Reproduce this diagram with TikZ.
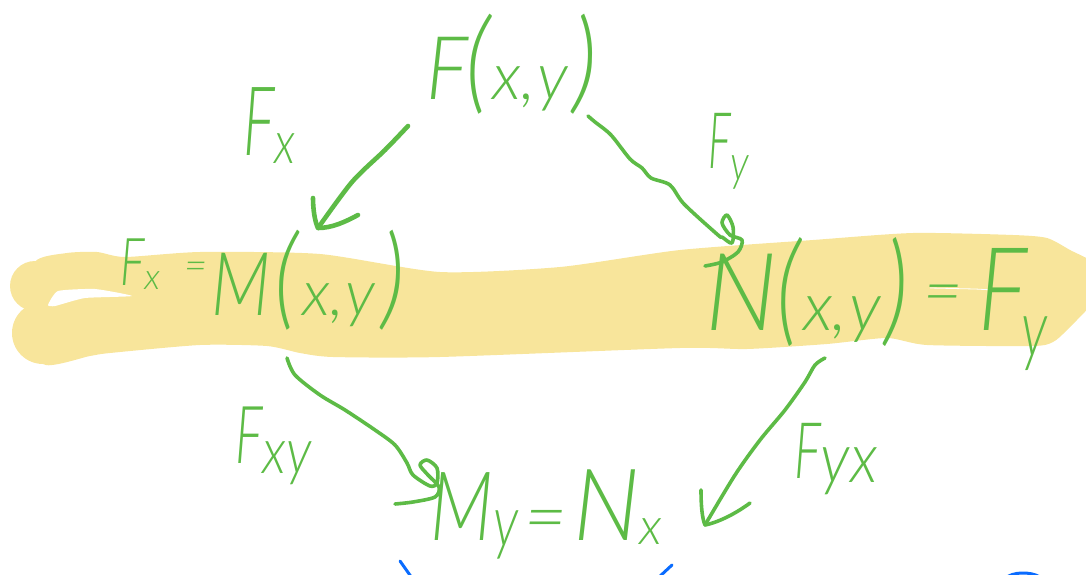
\documentclass[tikz,border=0pt]{standalone}
\usepackage{fontspec}
\usepackage{graphicx}
\setmainfont{Lato}
\newfontfamily\lt{Lato}[ItalicFont={Lato Light Italic}]
\definecolor{pen}{HTML}{5DBB46}
\definecolor{band}{HTML}{F8E59B}
\definecolor{bluepen}{HTML}{0A6CFF}
\newcommand{\fs}[1]{\fontsize{#1}{#1}\selectfont}
\newcommand{\sq}[2]{\scalebox{#1}[1]{#2}}
\newcommand{\lowered}[2]{\raisebox{-#1pt}{#2}}
\newcommand{\thin}[2]{{\lt\fs{#1}#2}}
\tikzset{
  lab/.style={text=pen,inner sep=0pt,outer sep=0pt,anchor=base west,font=\itshape},
  conn/.style={draw=pen,line width=3.6pt,line cap=round,line join=round},
  connb/.style={draw=pen,line width=4.6pt,line cap=round,line join=round},
  blueink/.style={draw=bluepen,line width=3pt,line cap=round}
}
\begin{document}
\begin{tikzpicture}[x=1pt,y=-1pt]
\useasboundingbox (0,0) rectangle (1086,575);
\begin{scope}
\clip (0,0) rectangle (1086,575);
% highlighter band: two round stroke ends and the body
\fill[band] (35,286) circle[radius=25];
\fill[band] (43,333) circle[radius=31];
\fill[band] plot[smooth cycle,tension=.4] coordinates {
 (35,262) (67,253) (97,252) (125,257) (200,252) (320,254) (440,272)
 (560,267) (680,250) (813,240) (913,233) (1013,235) (1047,238) (1070,250) (1098,266) (1098,296)
 (1067,330) (1053,342) (1033,346) (927,345) (887,338) (827,344) (747,349) (680,348) (440,357) (333,357)
 (300,353) (267,346) (200,345) (110,353) (90,356) (43,364) (40,310)};
\fill[white] plot[smooth cycle,tension=.3] coordinates {
 (48,305) (58,291) (95,289) (132,296) (85,298) (55,306)};
\draw[white,line width=.8pt] (930,288) -- (975,289) -- (1012,291);
% blue marks cut by the lower edge
\draw[blueink] (400,561) -- (412,578);
\draw[blueink] (672,565) -- (658,578);
\draw[blueink] (1006,578) .. controls (1012,572) and (1030,571) .. (1040,577);
\end{scope}
% labels
\node[lab] (top) at (426,100) {\thin{88}{\sq{.9}{F}}\kern-2pt\thin{112}{\sq{.9}{(}}\kern2pt\thin{66}{x,\kern2pt y}\kern4pt\thin{112}{\sq{.9}{)}}};
\node[lab] (fxlab) at (243,155) {\thin{96}{\sq{.62}{F}}\lowered{8}{\thin{60}{\sq{.8}{x}}}};
\node[lab] (fylab) at (708,168) {\thin{78}{\sq{.55}{F}}\lowered{12}{\thin{50}{\sq{.8}{y}}}};
\node[lab] (mid) at (120,285) {\thin{66}{\sq{.7}{F}}\lowered{4}{\thin{36}{x}}\kern24pt\lowered{-6}{\thin{40}{=}}\kern4pt\lowered{30}{\thin{88}{\sq{.8}{M}}\kern4pt\thin{112}{\sq{.85}{(}}\kern4pt\thin{64}{x,\kern2pt y}\kern6pt\thin{112}{\sq{.85}{)}}}};
\node[lab] (right) at (705,330) {\thin{108}{\sq{.95}{N}}\thin{122}{\sq{.8}{(}}\kern2pt\thin{68}{x,\kern2pt y}\kern4pt\thin{122}{\sq{.8}{)}}\kern14pt\lowered{-16}{\thin{68}{=}}\kern16pt\thin{116}{\sq{.8}{F}}\kern-6pt\lowered{26}{\thin{80}{\sq{.7}{y}}}};
\node[lab] (fxy) at (235,463) {\thin{80}{\sq{.65}{F}}\lowered{10}{\thin{64}{\sq{.85}{xy}}}};
\node[lab] (fyx) at (794,478) {\thin{78}{\sq{.65}{F}}\lowered{4}{\thin{70}{\sq{.9}{yx}}}};
\node[lab] (bottom) at (430,540) {\thin{96}{\sq{.78}{M}}\lowered{6}{\thin{72}{\sq{.75}{y}}}\kern6pt\lowered{2}{\thin{74}{=}}\kern6pt\thin{100}{\sq{.95}{N}}\lowered{4}{\thin{52}{x}}};
% connector ends, tied to the nodes
\coordinate (a1) at ([shift={(-18,26)}]top.base west);
\coordinate (t1) at ([shift={(198,-57)}]mid.base west);
\coordinate (a2) at ([shift={(162,16)}]top.base west);
\coordinate (t2) at ([shift={(0,-64)}]right.base west);
\coordinate (a3) at ([shift={(167,73)}]mid.base west);
\coordinate (t3) at ([shift={(-35,-36)}]bottom.base west);
\coordinate (a4) at ([shift={(120,28)}]right.base west);
\coordinate (t4) at ([shift={(-89,47)}]fyx.base west);
% F -> M
\draw[connb] plot[smooth,tension=.5] coordinates {(a1) (385,150) (352,182) (t1)};
\draw[connb] (313,198) .. controls (313,210) and (315,222) .. (t1) .. controls (332,228) and (345,222) .. (358,215);
% F -> N
\draw[conn] plot[smooth,tension=.5] coordinates {(a2) (595,122) (611,135) (630,159) (642,168) (651,178) (670,185) (684,204) (718,235) (722,237) (732,243) (733,227) (727,215) (722,223) (730,235) (742,240) (738,252) (722,262) (t2)};
% M -> My
\draw[conn] plot[smooth,tension=.5] coordinates {(a3) (295,375) (320,395) (345,410) (375,430) (395,445) (407,463) (413,475) (430,486) (437,483) (437,468) (427,460) (420,465) (428,475) (439,487) (435,497) (413,502) (t3)};
% N -> Nx
\draw[conn] plot[smooth,tension=.5] coordinates {(a4) (815,365) (805,382) (785,410) (760,440) (735,475) (t4)};
\draw[conn] (701,490) .. controls (701,505) and (702,518) .. (t4) .. controls (720,522) and (738,512) .. (750,503);
\end{tikzpicture}
\end{document}
